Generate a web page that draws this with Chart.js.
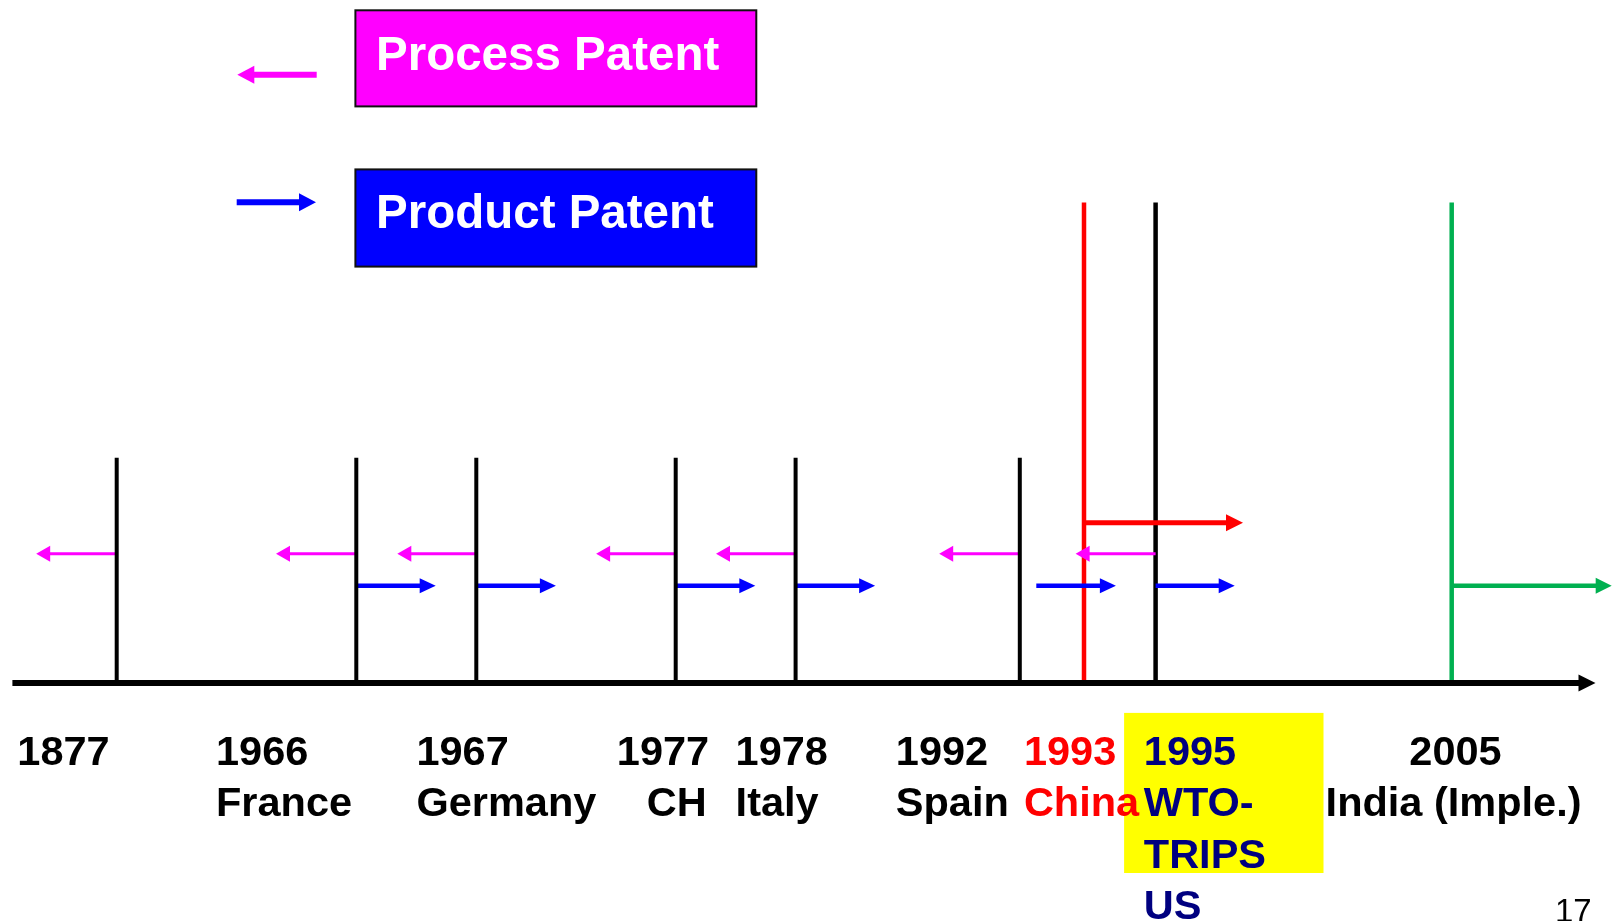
<!DOCTYPE html>
<html lang="en">
<head>
<meta charset="utf-8">
<title>Patent timeline</title>
<script src="https://cdn.jsdelivr.net/npm/chart.js@4.4.1/dist/chart.umd.min.js"></script>
<style>
  html, body { margin: 0; padding: 0; background: #fff; }
  canvas { display: block; }
</style>
</head>
<body>
<canvas id="chart" width="1620" height="921"></canvas>
<script>
// diagram units: x along the (schematic) timeline, y down the slide
const eventYears = ['1877', '1966', '1967', '1977', '1978', '1992', '1993', '1995', '2005'];
const eventYearX = [17.3, 216, 416.4, 616.8, 735.6, 895.8, 1023.9, 1143.8, 1409.3];
const eventNames = ['France', 'Germany', 'CH', 'Italy', 'Spain', 'China', 'WTO-', 'India (Imple.)'];
const eventNameX = [216, 416.4, 646.8, 735.6, 895.8, 1023.9, 1143.8, 1325.6];
const extraNames = ['TRIPS', 'US'];
const extraNameX = [1143.8, 1143.8];

// short black markers (1877, 1966, 1967, 1977, 1978, 1992)
const markerX = [116.7, 356.3, 476.3, 675.7, 795.6, 1019.8];
const markerTop = 457.7;
// tall markers: China 1993, WTO 1995, India 2005
const tallX = [1084, 1155.6, 1451.7];
const tallColors = ['#ff0000', '#000000', '#00b050'];
const tallTop = 202.5;
const axisY = 683;
const axisFrom = 12.4;
const axisTo = 1595.5;

// process patent arrows: [start, tip]
const processArrows = [[116.7, 36.2], [356.3, 276], [476.3, 397.3], [675.7, 596.1], [795.6, 716], [1019.8, 939.2], [1155.6, 1075.6]];
const processY = 553.7;
// product patent arrows: [start, tip]
const productArrows = [[356.3, 435.7], [476.3, 555.9], [675.7, 755.3], [795.6, 875.1], [1036.3, 1115.9], [1155.6, 1234.7]];
const productY = 585.7;
const chinaArrow = [1084, 1243];
const chinaY = 522.8;
const indiaArrow = [1451.7, 1611.7];
const indiaY = 585.7;

// legend
const legendLabels = ['Process Patent', 'Product Patent'];
const legendColors = ['#ff00ff', '#0000ff'];
const legendBoxX = [355.4, 756.3];
const legendBoxY = [[10.3, 106.4], [169.4, 266.6]];
const legendTextY = [70, 228];
const legendArrows = [[316.7, 237.3], [236.7, 316]];
const legendArrowY = [74.7, 202.3];

const highlightX = [1124.1, 1323.5];
const highlightY = [712.9, 873];
const rowY = [764.5, 816, 867.5, 919];

function seg(x0, x1, y) {
  return [{ x: x0, y: y }, { x: x1, y: y }];
}

function arrowSet(pair, y, color, width, head) {
  const dir = Math.sign(pair[1] - pair[0]);
  return {
    data: seg(pair[0], pair[1] - dir * head[0] * 0.6, y),
    borderColor: color,
    borderWidth: width,
    tipX: pair[1],
    tipY: y,
    head: head,
    dir: dir
  };
}

const datasets = [];
// axis
datasets.push(arrowSet([axisFrom, axisTo], axisY, '#000000', 6, [17, 8.5]));
markerX.forEach(x => {
  datasets.push({ data: [{ x: x, y: axisY }, { x: x, y: markerTop }], borderColor: '#000000', borderWidth: 4 });
});
processArrows.forEach(a => datasets.push(arrowSet(a, processY, '#ff00ff', 3, [14, 8])));
productArrows.forEach(a => datasets.push(arrowSet(a, productY, '#0000ff', 4.5, [16, 7.5])));
datasets.push(arrowSet(chinaArrow, chinaY, '#ff0000', 5, [17, 8.5]));
datasets.push(arrowSet(indiaArrow, indiaY, '#00b050', 4.5, [16, 8]));
legendArrows.forEach((a, i) => datasets.push(arrowSet(a, legendArrowY[i], legendColors[i], 6, [17, 9])));
tallX.forEach((x, i) => {
  datasets.push({ data: [{ x: x, y: axisY }, { x: x, y: tallTop }], borderColor: tallColors[i], borderWidth: 4.5 });
});

function drawText(ctx, text, x, y, color, font) {
  ctx.save();
  ctx.fillStyle = color;
  ctx.font = font;
  ctx.textBaseline = 'alphabetic';
  ctx.textAlign = 'left';
  ctx.fillText(text, x, y);
  ctx.restore();
}

const diagramPlugin = {
  id: 'diagram',
  beforeDatasetsDraw(chart) {
    const ctx = chart.ctx, xs = chart.scales.x, ys = chart.scales.y;
    // yellow highlight behind WTO text
    ctx.save();
    ctx.fillStyle = '#ffff00';
    const hx = xs.getPixelForValue(highlightX[0]), hy = ys.getPixelForValue(highlightY[0]);
    ctx.fillRect(hx, hy, xs.getPixelForValue(highlightX[1]) - hx, ys.getPixelForValue(highlightY[1]) - hy);
    // legend boxes
    legendLabels.forEach((lab, i) => {
      const x0 = xs.getPixelForValue(legendBoxX[0]), x1 = xs.getPixelForValue(legendBoxX[1]);
      const y0 = ys.getPixelForValue(legendBoxY[i][0]), y1 = ys.getPixelForValue(legendBoxY[i][1]);
      ctx.fillStyle = legendColors[i];
      ctx.fillRect(x0, y0, x1 - x0, y1 - y0);
      ctx.strokeStyle = '#111';
      ctx.lineWidth = 2;
      ctx.strokeRect(x0, y0, x1 - x0, y1 - y0);
      drawText(ctx, lab, xs.getPixelForValue(376), ys.getPixelForValue(legendTextY[i]), '#ffffff', 'bold 47.5px "Liberation Sans", Arial, sans-serif');
    });
    ctx.restore();
  },
  afterDatasetsDraw(chart) {
    const ctx = chart.ctx, xs = chart.scales.x, ys = chart.scales.y;
    // arrow heads
    chart.data.datasets.forEach(ds => {
      if (!ds.head) return;
      const tx = xs.getPixelForValue(ds.tipX), ty = ys.getPixelForValue(ds.tipY);
      ctx.save();
      ctx.fillStyle = ds.borderColor;
      ctx.beginPath();
      ctx.moveTo(tx, ty);
      ctx.lineTo(tx - ds.dir * ds.head[0], ty - ds.head[1]);
      ctx.lineTo(tx - ds.dir * ds.head[0], ty + ds.head[1]);
      ctx.closePath();
      ctx.fill();
      ctx.restore();
    });
    // labels under the axis
    const font = 'bold 41.5px "Liberation Sans", Arial, sans-serif';
    const colorFor = t => (t === '1993' || t === 'China') ? '#ff0000'
      : (t === '1995' || t === 'WTO-' || t === 'TRIPS' || t === 'US') ? '#000080' : '#000000';
    eventYears.forEach((t, i) => drawText(ctx, t, xs.getPixelForValue(eventYearX[i]), ys.getPixelForValue(rowY[0]), colorFor(t), font));
    eventNames.forEach((t, i) => drawText(ctx, t, xs.getPixelForValue(eventNameX[i]), ys.getPixelForValue(rowY[1]), colorFor(t), font));
    extraNames.forEach((t, i) => drawText(ctx, t, xs.getPixelForValue(extraNameX[i]), ys.getPixelForValue(rowY[2 + i]), colorFor(t), font));
    // slide number
    drawText(ctx, '17', xs.getPixelForValue(1555), ys.getPixelForValue(922), '#000000', '33px "Liberation Sans", Arial, sans-serif');
  }
};

new Chart(document.getElementById('chart'), {
  type: 'scatter',
  data: { datasets: datasets },
  options: {
    responsive: false,
    animation: false,
    devicePixelRatio: 1,
    layout: { padding: 0 },
    showLine: true,
    elements: {
      point: { radius: 0, hoverRadius: 0 },
      line: { tension: 0, borderCapStyle: 'butt', fill: false }
    },
    scales: {
      x: { type: 'linear', min: 0, max: 1620, display: false },
      y: { type: 'linear', min: 0, max: 921, reverse: true, display: false }
    },
    plugins: {
      legend: { display: false },
      tooltip: { enabled: false }
    }
  },
  plugins: [diagramPlugin]
});
</script>
</body>
</html>
